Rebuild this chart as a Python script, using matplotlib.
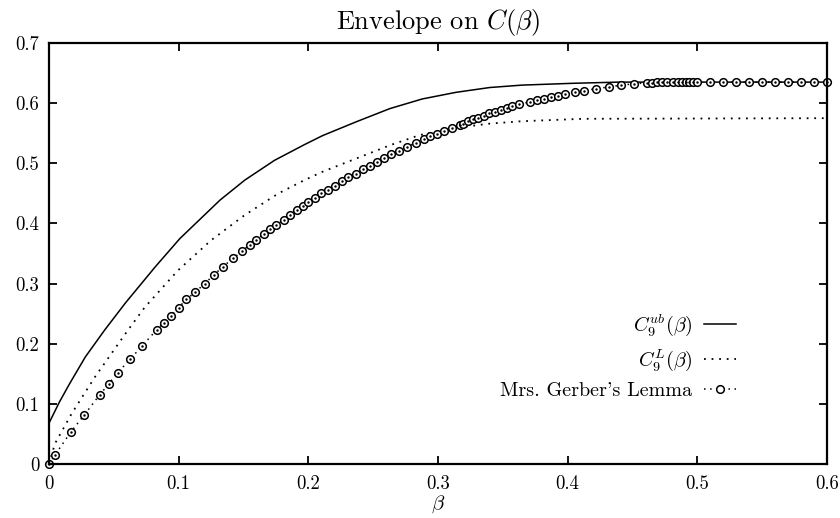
import matplotlib
matplotlib.use("Agg")
import matplotlib.pyplot as plt

plt.rcParams["font.family"] = "serif"
plt.rcParams["font.serif"] = ["cmr10", "DejaVu Serif"]
plt.rcParams["mathtext.fontset"] = "cm"
plt.rcParams["axes.formatter.use_mathtext"] = True

# upper bound C_9^ub(beta)
beta_ub = [0, 0.008, 0.016, 0.028, 0.043, 0.059, 0.082, 0.101, 0.132, 0.151, 0.174,
           0.197, 0.211, 0.237, 0.263, 0.288, 0.314, 0.340, 0.365, 0.404, 0.44, 0.6]
c_ub = [0.068, 0.103, 0.134, 0.178, 0.223, 0.268, 0.328, 0.375, 0.439, 0.472, 0.505,
        0.531, 0.546, 0.569, 0.591, 0.607, 0.618, 0.626, 0.630, 0.633, 0.635, 0.635]

# lower bound C_9^L(beta)
beta_l = [0, 0.0046, 0.0175, 0.0355, 0.061, 0.074, 0.0995, 0.125, 0.151, 0.177,
          0.197, 0.211, 0.237, 0.263, 0.286, 0.314, 0.340, 0.365, 0.412, 0.6]
c_l = [0, 0.034, 0.084, 0.145, 0.223, 0.261, 0.322, 0.372, 0.414, 0.450,
       0.472, 0.486, 0.508, 0.530, 0.547, 0.559, 0.566, 0.570, 0.574, 0.575]

# Mrs. Gerber's Lemma
beta_mgl = [0, 0.0046, 0.017, 0.027, 0.039, 0.046, 0.053, 0.0625, 0.072, 0.083,
            0.0887, 0.094, 0.100, 0.106, 0.113, 0.120, 0.127, 0.134, 0.142, 0.149,
            0.155, 0.160, 0.1655, 0.1706, 0.1755, 0.181, 0.186, 0.191, 0.196, 0.200,
            0.205, 0.210, 0.215, 0.2205, 0.2257, 0.231, 0.2367, 0.2423, 0.2475, 0.253,
            0.2585, 0.264, 0.270, 0.276, 0.283, 0.289, 0.294, 0.2995, 0.305, 0.3105,
            0.317, 0.3195, 0.3233, 0.327, 0.331, 0.3354, 0.3395, 0.344, 0.3485, 0.353,
            0.3575, 0.3626, 0.371, 0.3765, 0.3817, 0.3876, 0.393, 0.398, 0.4055, 0.413,
            0.422, 0.432, 0.4415, 0.451, 0.461, 0.465, 0.469, 0.473, 0.477, 0.481,
            0.485, 0.488, 0.491, 0.494, 0.497, 0.500, 0.51, 0.52, 0.53, 0.54,
            0.55, 0.56, 0.57, 0.58, 0.59, 0.60]
c_mgl = [0, 0.015, 0.054, 0.081, 0.115, 0.133, 0.152, 0.174, 0.197, 0.223,
         0.235, 0.246, 0.260, 0.274, 0.286, 0.300, 0.314, 0.328, 0.342, 0.354,
         0.365, 0.373, 0.382, 0.390, 0.398, 0.406, 0.414, 0.422, 0.429, 0.436,
         0.443, 0.450, 0.456, 0.462, 0.470, 0.477, 0.483, 0.490, 0.496, 0.503,
         0.509, 0.515, 0.520, 0.527, 0.534, 0.540, 0.545, 0.549, 0.554, 0.559,
         0.563, 0.566, 0.570, 0.573, 0.576, 0.579, 0.583, 0.586, 0.589, 0.592,
         0.595, 0.598, 0.602, 0.605, 0.607, 0.610, 0.612, 0.615, 0.618, 0.621,
         0.624, 0.627, 0.630, 0.632, 0.634, 0.634, 0.635, 0.635, 0.635, 0.635,
         0.635, 0.635, 0.635, 0.635, 0.635, 0.635, 0.635, 0.635, 0.635, 0.635,
         0.635, 0.635, 0.635, 0.635, 0.635, 0.635]

xticks = [0, 0.1, 0.2, 0.3, 0.4, 0.5, 0.6]
xtick_labels = ["0", "0.1", "0.2", "0.3", "0.4", "0.5", "0.6"]
yticks = [0, 0.1, 0.2, 0.3, 0.4, 0.5, 0.6, 0.7]
ytick_labels = ["0", "0.1", "0.2", "0.3", "0.4", "0.5", "0.6", "0.7"]

fig = plt.figure(figsize=(8.4, 5.18), dpi=100)
ax = fig.add_axes([0.0583, 0.104, 0.926, 0.813])

ax.plot(beta_ub, c_ub, color="black", linewidth=1.1,
        label=r"$C_9^{ub}(\beta)$")
ax.plot(beta_l, c_l, color="black", linewidth=1.3, linestyle=(0, (1, 3.2)),
        label=r"$C_9^{L}(\beta)$")
ax.plot(beta_mgl, c_mgl, color="black", linewidth=1.1, linestyle=(0, (1, 3)),
        marker="o", markersize=5.5, markerfacecolor="white",
        markeredgewidth=1.1, label="Mrs. Gerber's Lemma", clip_on=False)
ax.plot(beta_mgl, c_mgl, color="black", linestyle="none", marker=".",
        markersize=1.5, clip_on=False)

ax.set_xlim(0, 0.6)
ax.set_ylim(0, 0.7)
ax.set_xticks(xticks)
ax.set_xticklabels(xtick_labels)
ax.set_yticks(yticks)
ax.set_yticklabels(ytick_labels)
ax.tick_params(direction="in", length=6, width=1.3, top=True, right=True,
               labelsize=13.5)
ax.tick_params(axis="x", pad=8)
ax.tick_params(axis="y", pad=7)
for s in ax.spines.values():
    s.set_linewidth(1.6)

ax.set_title(r"Envelope on $C(\beta)$", fontsize=19, pad=10)
ax.set_xlabel(r"$\beta$", fontsize=15, labelpad=0)

ax.legend(loc="lower right", bbox_to_anchor=(0.896, 0.128), frameon=False,
          markerfirst=False, numpoints=1, handlelength=1.6,
          handletextpad=0.55, labelspacing=0.45, fontsize=14.5, borderpad=0)

fig.savefig("out.png", dpi=100)
